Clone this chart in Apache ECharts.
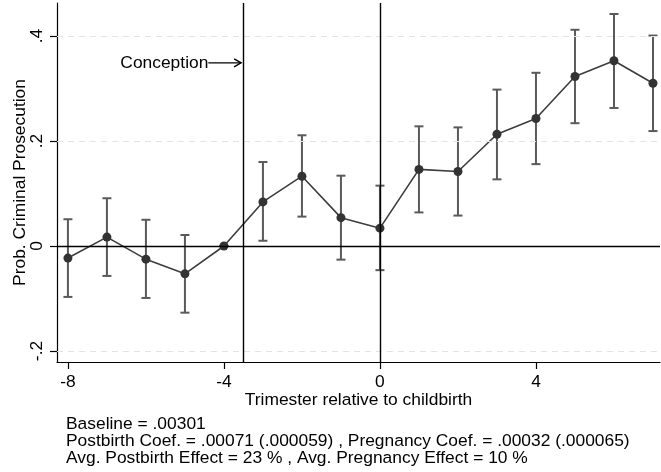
<!DOCTYPE html>
<html><head><meta charset="utf-8">
<script src="https://cdn.jsdelivr.net/npm/echarts@6/dist/echarts.min.js"></script>
<style>html,body{margin:0;padding:0;background:#fff}#c{width:661px;height:472px}</style>
</head><body><div id="c"></div>
<script>
// Data
var trimesters = [-8,-7,-6,-5,-4,-3,-2,-1,0,1,2,3,4,5,6,7];
var coef  = [-0.023,0.017,-0.025,-0.053,0.000,0.084,0.133,0.054,0.034,0.146,0.142,0.213,0.243,0.323,0.353,0.310];
var ciLow = [-0.097,-0.057,-0.099,-0.127,0.000,0.010,0.056,-0.026,-0.046,0.064,0.058,0.127,0.156,0.234,0.263,0.219];
var ciHigh= [0.051,0.091,0.050,0.021,0.000,0.160,0.211,0.134,0.115,0.228,0.226,0.298,0.330,0.412,0.442,0.401];
var xTicks = [-8,-4,0,4];
var yTicks = [-0.2,0,0.2,0.4];
var yGrid = [-0.2,0.2,0.4];
var vLines = [-3.5,0];
var conceptionArrow = {label:'Conception', from:-4.4, to:-3.56, y:0.349};
var notes = ['Baseline = .00301',
  'Postbirth Coef. = .00071 (.000059) , Pregnancy Coef. = .00032 (.000065)',
  'Avg. Postbirth Effect = 23 % , Avg. Pregnancy Effect = 10 %'];

var FONT = '"Liberation Sans", Arial, sans-serif';
var FS = 17.4;
function fmt(v){ if (Math.abs(v) < 1e-9) return '0'; var s = String(+v.toFixed(2)); return s.replace('0.', '.'); }

var chart = echarts.init(document.getElementById('c'), null, {renderer:'canvas'});
var pts = trimesters.map(function(t,i){ return [t, coef[i]]; });
var bars = trimesters.map(function(t,i){ return [t, ciLow[i], ciHigh[i]]; });

chart.setOption({
  animation:false,
  backgroundColor:'#fff',
  textStyle:{fontFamily:FONT},
  grid:{left:57,right:1,top:3,bottom:110,containLabel:false,outerBoundsMode:'none'},
  xAxis:{type:'value',min:-8.28,max:7.18,
    name:'Trimester relative to childbirth',nameLocation:'middle',nameGap:30,nameMoveOverlap:false,
    nameTextStyle:{fontFamily:FONT,fontSize:FS,color:'#000'},
    axisLine:{show:true,onZero:false,lineStyle:{color:'#000',width:1.2}},
    axisTick:{show:true,customValues:xTicks,length:7,lineStyle:{color:'#000',width:1.2}},
    axisLabel:{customValues:xTicks,margin:12,fontFamily:FONT,fontSize:FS,color:'#000',formatter:fmt},
    splitLine:{show:false}},
  yAxis:{type:'value',min:-0.221,max:0.463,
    name:'Prob. Criminal Prosecution',nameLocation:'middle',nameGap:28,nameMoveOverlap:false,
    nameTextStyle:{fontFamily:FONT,fontSize:FS,color:'#000'},
    axisLine:{show:true,onZero:false,lineStyle:{color:'#000',width:1.2}},
    axisTick:{show:true,customValues:yTicks,length:7,lineStyle:{color:'#000',width:1.2}},
    axisLabel:{customValues:yTicks,rotate:90,margin:11,fontFamily:FONT,fontSize:FS,color:'#000',formatter:fmt},
    splitLine:{show:false}},
  series:[
    {type:'line',name:'grid',data:[],silent:true,
      markLine:{silent:true,symbol:['none','none'],label:{show:false},animation:false,
        data:yGrid.map(function(v){return {yAxis:v,lineStyle:{color:'#e3e3e3',type:[6,5],width:1}};})
          .concat([{yAxis:0,lineStyle:{color:'#000',type:'solid',width:1.4}}])
          .concat(vLines.map(function(v){return {xAxis:v,lineStyle:{color:'#000',type:'solid',width:1.4}};}))}},
    {type:'custom',name:'ci',data:bars,z:3,silent:true,
      renderItem:function(params,api){
        var x=api.value(0), lo=api.coord([x,api.value(1)]), hi=api.coord([x,api.value(2)]);
        var w=4.5, st={stroke:'#5a5a5a',lineWidth:2};
        return {type:'group',children:[
          {type:'line',shape:{x1:lo[0],y1:lo[1],x2:hi[0],y2:hi[1]},style:st},
          {type:'line',shape:{x1:lo[0]-w,y1:lo[1],x2:lo[0]+w,y2:lo[1]},style:st},
          {type:'line',shape:{x1:hi[0]-w,y1:hi[1],x2:hi[0]+w,y2:hi[1]},style:st}]};
      }},
    {type:'line',name:'coef',data:pts,z:4,symbol:'circle',symbolSize:9,showSymbol:true,
      lineStyle:{color:'#3d3d3d',width:1.6},itemStyle:{color:'#333'}},
    {type:'custom',name:'arrow',data:[[conceptionArrow.from,conceptionArrow.y,conceptionArrow.to]],z:5,silent:true,
      renderItem:function(params,api){
        var p0=api.coord([api.value(0),api.value(1)]), p1=api.coord([api.value(2),api.value(1)]);
        var st={stroke:'#000',lineWidth:1.4};
        return {type:'group',children:[
          {type:'line',shape:{x1:p0[0],y1:p0[1],x2:p1[0],y2:p1[1]},style:st},
          {type:'polyline',shape:{points:[[p1[0]-7,p1[1]-4],[p1[0],p1[1]],[p1[0]-7,p1[1]+4]]},style:{stroke:'#000',lineWidth:1.4,fill:null}},
          {type:'text',x:p0[0],y:p0[1],style:{text:conceptionArrow.label,align:'right',verticalAlign:'middle',font:FS+'px '+FONT,fill:'#000'}}]};
      }}
  ],
  graphic:[{type:'text',left:66,top:416,style:{text:notes.join('\n'),font:FS+'px '+FONT,lineHeight:17,fill:'#000'}}]
});
</script></body></html>
